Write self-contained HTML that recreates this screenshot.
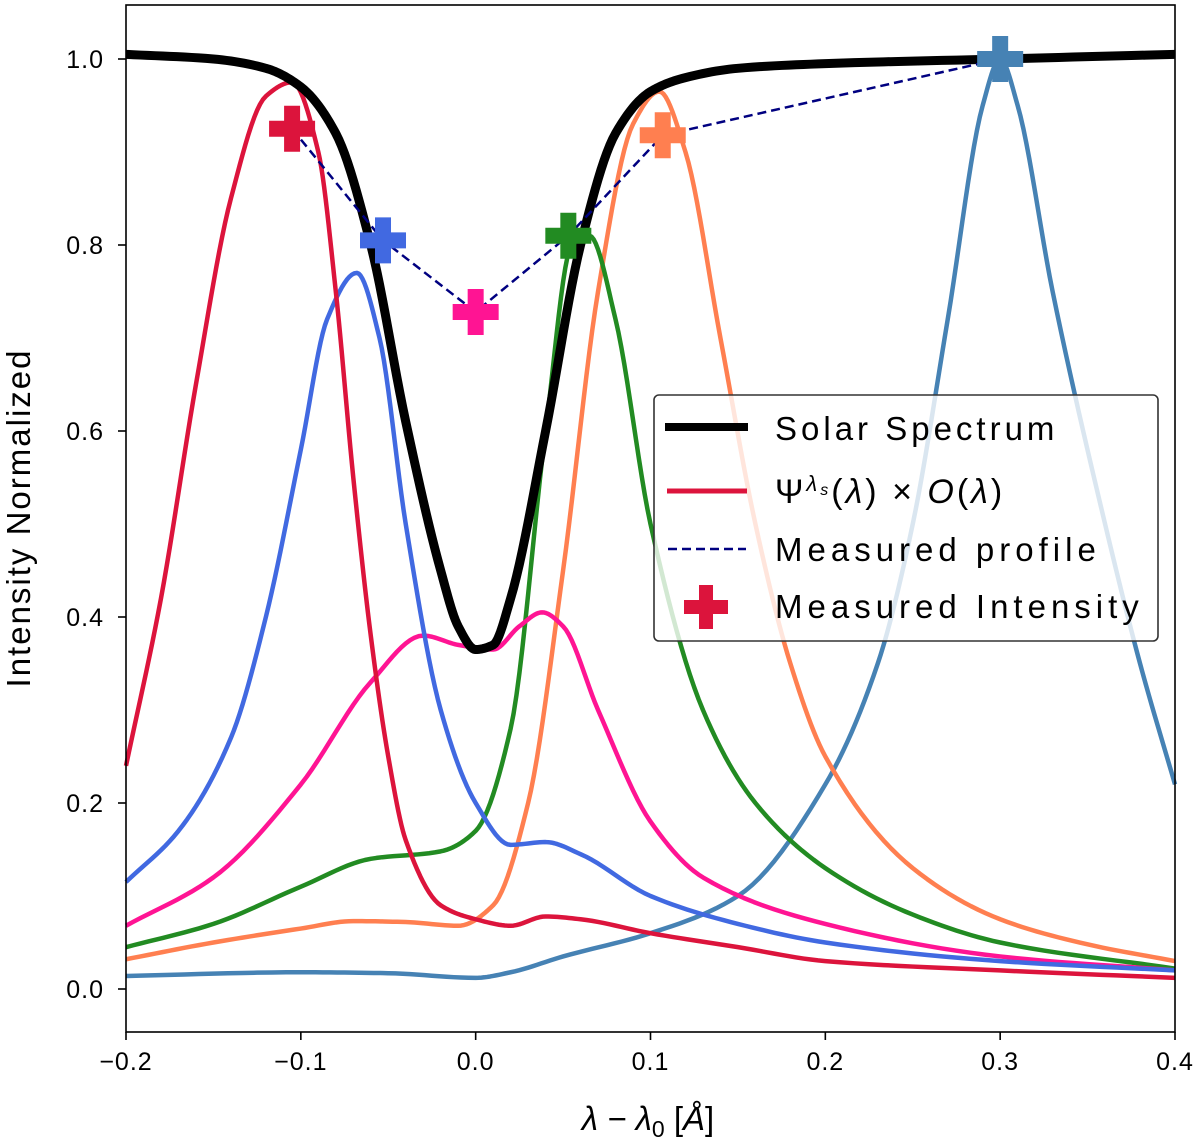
<!DOCTYPE html>
<html><head><meta charset="utf-8"><style>
body{margin:0;background:#fff}
svg{display:block;font-family:"Liberation Sans","DejaVu Sans",sans-serif}
</style></head><body>
<svg id="chart" width="1200" height="1148" xmlns="http://www.w3.org/2000/svg">
<g id="curves"></g>
<g id="markers"></g>
<rect x="126" y="5" width="1049" height="1027" fill="none" stroke="#000" stroke-width="1.6"/>
<g id="ticks" font-size="25"></g>
<text transform="translate(30,518) rotate(-90)" text-anchor="middle" font-size="33" letter-spacing="2">Intensity Normalized</text>
<text x="648" y="1130" text-anchor="middle" font-size="33" font-style="italic">λ − λ<tspan font-size="23" dy="7" font-style="normal">0</tspan><tspan dy="-7" font-style="normal"> [</tspan>Å<tspan font-style="normal">]</tspan></text>
<g>
<rect x="654" y="395" width="504" height="246" rx="5" fill="#fff" fill-opacity="0.8" stroke="#333" stroke-width="1.6"/>
<line x1="665" y1="427" x2="748" y2="427" stroke="#000" stroke-width="8"/>
<text x="775" y="440" font-size="33" letter-spacing="4">Solar Spectrum</text>
<line x1="667" y1="491" x2="747" y2="491" stroke="#dc143c" stroke-width="5"/>
<text x="775" y="503" font-size="34" letter-spacing="3">Ψ<tspan font-style="italic" font-size="22" dy="-12">λ</tspan><tspan font-style="italic" font-size="16" dy="4">s</tspan><tspan dy="8">(</tspan><tspan font-style="italic">λ</tspan>) × <tspan font-style="italic">O</tspan>(<tspan font-style="italic">λ</tspan>)</text>
<line x1="668" y1="549" x2="746" y2="549" stroke="#000080" stroke-width="2.5" stroke-dasharray="9,5"/>
<text x="775" y="561" font-size="33" letter-spacing="5">Measured profile</text>
<path d="M699,585h14v15h15v14h-15v15h-14v-15h-15v-14h15z" fill="#dc143c"/>
<text x="775" y="618" font-size="33" letter-spacing="5">Measured Intensity</text>
</g>
</svg>
<script>
const solarX=[-0.2,-0.15,-0.12,-0.1,-0.08,-0.06,-0.04,-0.02,-0.01,0,0.01,0.02,0.04,0.06,0.08,0.1,0.12,0.15,0.2,0.3,0.4];
const solarY=[1.005,1.0,0.99,0.97,0.92,0.80,0.61,0.45,0.39,0.365,0.37,0.42,0.6,0.8,0.92,0.965,0.98,0.99,0.995,1.0,1.005];
const redX=[-0.2,-0.18,-0.16,-0.14,-0.12,-0.105,-0.09,-0.08,-0.07,-0.06,-0.05,-0.04,-0.02,0,0.02,0.04,0.06,0.1,0.15,0.2,0.3,0.4];
const redY=[0.24,0.42,0.65,0.85,0.96,0.975,0.9,0.75,0.55,0.38,0.25,0.16,0.09,0.075,0.068,0.078,0.075,0.06,0.045,0.03,0.02,0.012];
const blueX=[-0.2,-0.17,-0.14,-0.12,-0.1,-0.085,-0.068,-0.055,-0.04,-0.02,0,0.02,0.04,0.06,0.1,0.15,0.2,0.3,0.4];
const blueY=[0.115,0.17,0.27,0.4,0.58,0.72,0.77,0.7,0.5,0.3,0.2,0.155,0.158,0.145,0.1,0.07,0.05,0.03,0.02];
const pinkX=[-0.2,-0.15,-0.1,-0.06,-0.03,-0.01,0.01,0.025,0.038,0.05,0.07,0.1,0.13,0.2,0.3,0.4];
const pinkY=[0.068,0.12,0.22,0.33,0.38,0.37,0.365,0.39,0.405,0.39,0.3,0.18,0.12,0.07,0.035,0.02];
const greenX=[-0.2,-0.15,-0.1,-0.06,-0.02,0,0.02,0.04,0.055,0.065,0.08,0.1,0.13,0.16,0.2,0.25,0.3,0.4];
const greenY=[0.045,0.07,0.11,0.14,0.148,0.17,0.28,0.6,0.8,0.81,0.72,0.5,0.3,0.2,0.13,0.08,0.05,0.022];
const orangeX=[-0.2,-0.15,-0.1,-0.07,-0.04,-0.01,0.01,0.03,0.05,0.07,0.09,0.105,0.12,0.14,0.16,0.18,0.2,0.25,0.3,0.35,0.4];
const orangeY=[0.032,0.05,0.065,0.073,0.072,0.068,0.09,0.2,0.45,0.75,0.93,0.965,0.9,0.7,0.5,0.35,0.25,0.13,0.075,0.048,0.03];
const steelX=[-0.2,-0.1,-0.05,0,0.02,0.05,0.1,0.15,0.2,0.23,0.25,0.27,0.29,0.3,0.31,0.33,0.36,0.38,0.4];
const steelY=[0.014,0.018,0.017,0.012,0.018,0.035,0.06,0.1,0.22,0.35,0.5,0.72,0.95,1.0,0.95,0.75,0.5,0.35,0.22];
const measX=[-0.105,-0.053,0,0.053,0.107,0.3];
const measY=[0.925,0.805,0.728,0.81,0.918,1.0];
const measColors=["#dc143c","#4169e1","#ff1493","#228b22","#ff7f50","#4682b4"];
const xTicks=[-0.2,-0.1,0.0,0.1,0.2,0.3,0.4];
const xTickLabels=["−0.2","−0.1","0.0","0.1","0.2","0.3","0.4"];
const yTicks=[0,0.2,0.4,0.6,0.8,1.0];
const yTickLabels=["0.0","0.2","0.4","0.6","0.8","1.0"];

const sx=v=>126+(v+0.2)/0.6*1049;
const sy=v=>989-v*930;
const NS="http://www.w3.org/2000/svg";
function smooth(xs,ys){
  const n=xs.length,d=[],m=[];
  for(let i=0;i<n-1;i++)d.push((ys[i+1]-ys[i])/(xs[i+1]-xs[i]));
  for(let i=0;i<n;i++){
    if(i===0)m.push(d[0]);else if(i===n-1)m.push(d[n-2]);
    else if(d[i-1]*d[i]<=0)m.push(0);
    else{const w1=2*(xs[i+1]-xs[i])+(xs[i]-xs[i-1]),w2=(xs[i+1]-xs[i])+2*(xs[i]-xs[i-1]);m.push((w1+w2)/(w1/d[i-1]+w2/d[i]));}
  }
  let path="";
  for(let i=0;i<n-1;i++){
    const h=xs[i+1]-xs[i];
    for(let k=0;k<=12;k++){
      if(i>0&&k===0)continue;
      const t=k/12,t2=t*t,t3=t2*t;
      const y=(2*t3-3*t2+1)*ys[i]+(t3-2*t2+t)*h*m[i]+(-2*t3+3*t2)*ys[i+1]+(t3-t2)*h*m[i+1];
      const x=xs[i]+t*h;
      path+=(path?"L":"M")+sx(x).toFixed(2)+","+sy(y).toFixed(2);
    }
  }
  return path;
}
const cg=document.getElementById('curves');
function addCurve(xs,ys,color,w,name){
  const el=document.createElementNS(NS,'path');
  el.setAttribute('d',smooth(xs,ys));
  el.setAttribute('fill','none');el.setAttribute('stroke',color);el.setAttribute('stroke-width',w);el.setAttribute('stroke-linejoin','round');
  
  
  cg.appendChild(el);
}
addCurve(steelX,steelY,"#4682b4",4.5,'steelblue-filter-curve');
addCurve(orangeX,orangeY,"#ff7f50",4.5,'coral-filter-curve');
addCurve(greenX,greenY,"#228b22",4.5,'green-filter-curve');
addCurve(pinkX,pinkY,"#ff1493",4.5,'pink-filter-curve');
addCurve(blueX,blueY,"#4169e1",4.5,'blue-filter-curve');
addCurve(redX,redY,"#dc143c",4.5,'red-filter-curve');
addCurve(solarX,solarY,"#000",9,'solar-spectrum-line');
const mg=document.getElementById('markers');
const pl=document.createElementNS(NS,'polyline');
pl.setAttribute('points',measX.map((x,i)=>sx(x)+","+sy(measY[i])).join(" "));
pl.setAttribute('fill','none');pl.setAttribute('stroke','#000080');pl.setAttribute('stroke-width','2.5');pl.setAttribute('stroke-dasharray','9,5');


mg.appendChild(pl);
measX.forEach((x,i)=>{
  const cx=sx(x),cy=sy(measY[i]);
  const el=document.createElementNS(NS,'path');
  el.setAttribute('d',`M${cx-8},${cy-23}h16v15h15v16h-15v15h-16v-15h-15v-16h15z`);
  el.setAttribute('fill',measColors[i]);
  
  
  mg.appendChild(el);
});
const tg=document.getElementById('ticks');
xTicks.forEach((t,i)=>{
  const l=document.createElementNS(NS,'line');
  l.setAttribute('x1',sx(t));l.setAttribute('x2',sx(t));l.setAttribute('y1',1032);l.setAttribute('y2',1040);l.setAttribute('stroke','#000');l.setAttribute('stroke-width','1.6');
  
  
  tg.appendChild(l);
  const tx=document.createElementNS(NS,'text');
  tx.setAttribute('x',sx(t));tx.setAttribute('y',1070);tx.setAttribute('text-anchor','middle');tx.setAttribute('letter-spacing','1');tx.textContent=xTickLabels[i];
  
  
  tg.appendChild(tx);
});
yTicks.forEach((t,i)=>{
  const l=document.createElementNS(NS,'line');
  l.setAttribute('x1',118);l.setAttribute('x2',126);l.setAttribute('y1',sy(t));l.setAttribute('y2',sy(t));l.setAttribute('stroke','#000');l.setAttribute('stroke-width','1.6');
  
  
  tg.appendChild(l);
  const tx=document.createElementNS(NS,'text');
  tx.setAttribute('x',104);tx.setAttribute('y',sy(t)+9);tx.setAttribute('text-anchor','end');tx.setAttribute('letter-spacing','1');tx.textContent=yTickLabels[i];
  
  
  tg.appendChild(tx);
});
</script>
</body></html>
